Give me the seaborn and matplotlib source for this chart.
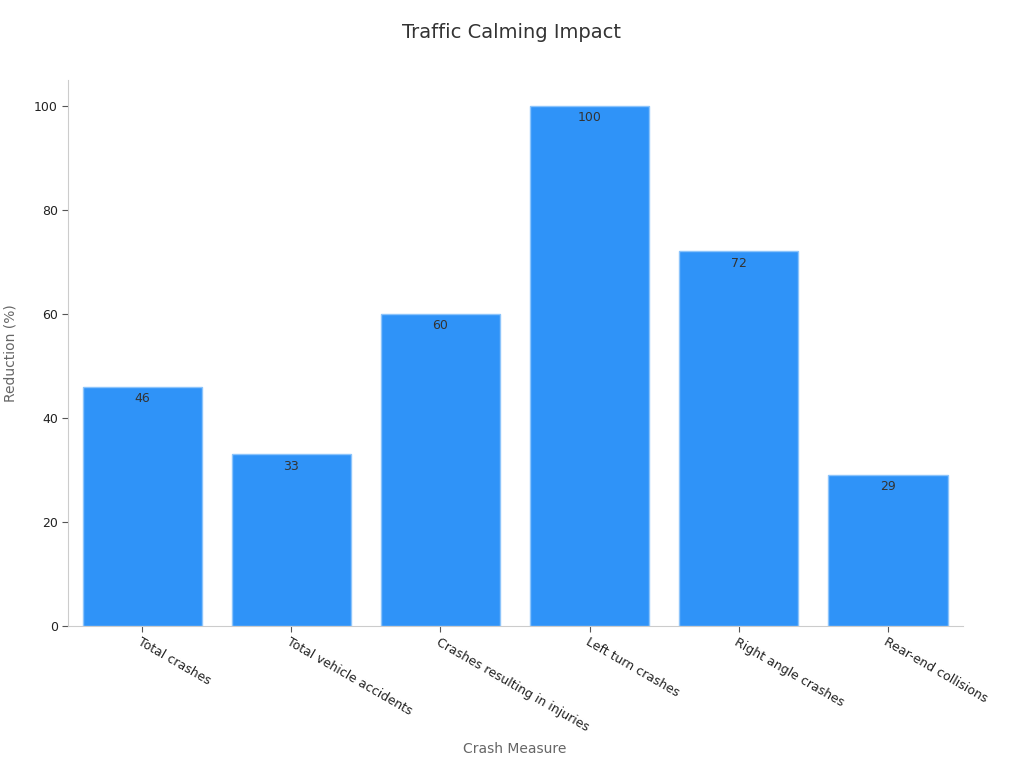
import matplotlib
matplotlib.use("Agg")
import matplotlib.pyplot as plt
import seaborn as sns
import pandas as pd

# data
measures = ["Total crashes", "Total vehicle accidents", "Crashes resulting in injuries",
            "Left turn crashes", "Right angle crashes", "Rear-end collisions"]
reduction = [46, 33, 60, 100, 72, 29]

df = pd.DataFrame({"Crash Measure": measures, "Reduction (%)": reduction})

sns.set_style("white")
plt.rcParams['font.family'] = ['DejaVu Sans']

fig = plt.figure(figsize=(10.24, 7.68), dpi=100)
ax = fig.add_axes([0.066, 0.185, 0.874, 0.711])

sns.barplot(data=df, x="Crash Measure", y="Reduction (%)", color="#2f93f8",
            saturation=1, width=0.8, edgecolor="#8cc4fb", linewidth=1, ax=ax)

# value labels just inside the top of each bar
for i, v in enumerate(reduction):
    ax.text(i, v - 1.0, str(v), ha="center", va="top", fontsize=9, color="#333333")

ax.set_ylim(0, 105)
ax.set_xlim(-0.5, 5.5)
ax.set_yticks([0, 20, 40, 60, 80, 100])
ax.tick_params(axis="both", bottom=True, left=True, labelsize=9, colors="#222222",
               length=4, width=0.8, color="#555555", pad=3)
plt.setp(ax.get_xticklabels(), rotation=-30, ha="left", rotation_mode="anchor")

for s in ["top", "right"]:
    ax.spines[s].set_visible(False)
for s in ["left", "bottom"]:
    ax.spines[s].set_color("#cccccc")

ax.set_xlabel("Crash Measure", fontsize=10, color="#666666", labelpad=6)
ax.set_ylabel("Reduction (%)", fontsize=10, color="#666666", labelpad=12)
fig.suptitle("Traffic Calming Impact", fontsize=14, color="#333333", y=0.97)

fig.savefig("out.png", dpi=100)
